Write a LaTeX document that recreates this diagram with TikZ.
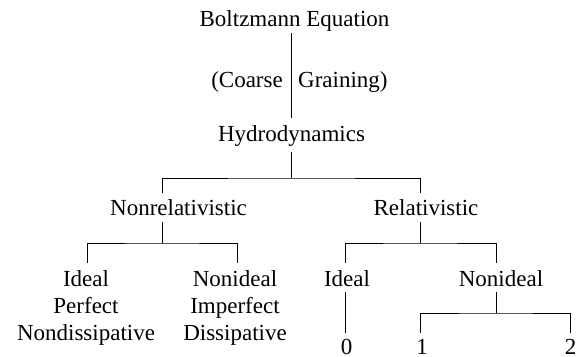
\documentclass[tikz,border=0pt]{standalone}
\usepackage{fontspec}
\setmainfont{Liberation Serif}
\begin{document}
\begin{tikzpicture}[x=1pt,y=-1pt,
  lbl/.style={inner sep=0pt,anchor=base,font=\fontsize{23}{27}\selectfont},
  lblm/.style={lbl,align=center,anchor=north},
  branch/.style={line width=0.9pt,black}]
\useasboundingbox (0,0) rectangle (578,356);
% labels
\node[lbl] (boltz) at (294.5,27) {Boltzmann Equation};
\node[lbl,anchor=base east] (coarse) at (283,87) {(Coarse};
\node[lbl,anchor=base west] (grain) at (298,87) {Graining)};
\node[lbl] (hydro) at (291.5,141) {Hydrodynamics};
\node[lbl] (nonrel) at (178.5,215) {Nonrelativistic};
\node[lbl] (rel) at (426,215) {Relativistic};
\node[lblm] (nrideal) at (86,270.3) {Ideal\\Perfect\\Nondissipative};
\node[lblm] (nrnonideal) at (235,270.3) {Nonideal\\Imperfect\\Dissipative};
\node[lbl] (rideal) at (347,286) {Ideal};
\node[lbl] (rnonideal) at (501,286) {Nonideal};
\node[lbl] (zero) at (346.5,354.3) {0};
\node[lbl] (one) at (422,354.3) {1};
\node[lbl] (two) at (570.5,354.3) {2};
% connector end points
\coordinate (bd) at (291.7,33);
\coordinate (hu) at (291.7,118);
\coordinate (hd) at (291.7,152);
\coordinate (hf) at (291.7,178);
\coordinate (nru) at (162,193);
\coordinate (ru) at (420,193);
\coordinate (nrd) at (162,222);
\coordinate (nrf) at (162,243);
\coordinate (nriu) at (87,263);
\coordinate (nrnu) at (237,263);
\coordinate (rd) at (420,222);
\coordinate (rf) at (420,243);
\coordinate (riu) at (345,263);
\coordinate (rnu) at (496,263);
\coordinate (rid) at (345,292);
\coordinate (zu) at (345,333);
\coordinate (rnd) at (496,292);
\coordinate (rnf) at (496,313);
\coordinate (ou) at (420,333);
\coordinate (tu) at (570,333);
% connectors
\draw[branch] (bd) -- (hu);
\draw[branch] (hd) -- (hf);
\draw[branch] (nru) |- (hf) -| (ru);
\draw[branch] (nrd) -- (nrf);
\draw[branch] (nriu) |- (nrf) -| (nrnu);
\draw[branch] (rd) -- (rf);
\draw[branch] (riu) |- (rf) -| (rnu);
\draw[branch] (rid) -- (zu);
\draw[branch] (rnd) -- (rnf);
\draw[branch] (ou) |- (rnf) -| (tu);
\end{tikzpicture}
\end{document}
